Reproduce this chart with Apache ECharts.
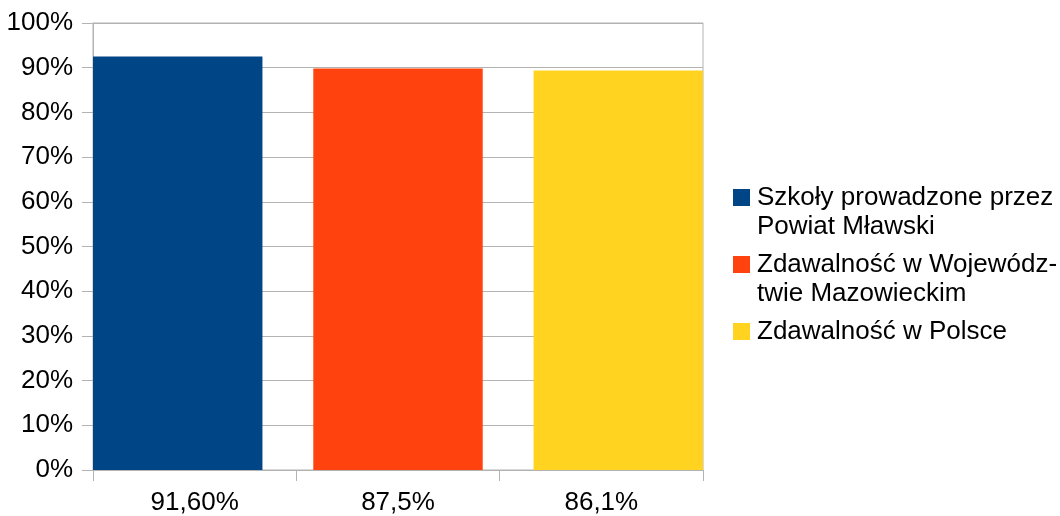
<!DOCTYPE html>
<html>
<head>
<meta charset="utf-8">
<script src="https://cdn.jsdelivr.net/npm/echarts@6/dist/echarts.min.js"></script>
<style>
html,body{margin:0;padding:0;background:#fff;}
#chart{width:1060px;height:516px;}
</style>
</head>
<body>
<div id="chart"></div>
<script>
var categories = ['91,60%', '87,5%', '86,1%'];
var seriesNames = ['Szkoły prowadzone przez Powiat Mławski', 'Zdawalność w Województwie Mazowieckim', 'Zdawalność w Polsce'];
var legendLabels = ['\nSzkoły prowadzone przez\nPowiat Mławski', '\nZdawalność w Wojewódz-\ntwie Mazowieckim', '\nZdawalność w Polsce\n'];
var powiatValues = [0.925, '-', '-'];
var mazowieckieValues = ['-', 0.898, '-'];
var polskaValues = ['-', '-', 0.894];
var colors = ['#004586', '#ff420e', '#ffd320'];

var FONT = '"Liberation Sans", Arial, sans-serif';
var chart = echarts.init(document.getElementById('chart'), null, {renderer: 'canvas'});
var seriesData = [powiatValues, mazowieckieValues, polskaValues];

var option = {
  animation: false,
  backgroundColor: '#ffffff',
  color: colors,
  grid: {
    left: 93, right: 357, top: 23, bottom: 44,
    show: true, borderColor: '#b3b3b3', borderWidth: 1
  },
  legend: {
    orient: 'vertical',
    left: 733,
    top: 154,
    padding: 0,
    itemGap: -20,
    itemWidth: 17,
    itemHeight: 17,
    icon: 'rect',
    textStyle: {fontFamily: FONT, fontSize: 26, color: '#000', lineHeight: 29, padding: [0, 0, 0, 2]},
    formatter: function (name) { return legendLabels[seriesNames.indexOf(name)]; },
    data: seriesNames
  },
  xAxis: {
    type: 'category',
    data: categories,
    boundaryGap: true,
    axisLine: {show: true, lineStyle: {color: '#b3b3b3'}},
    axisTick: {show: true, length: 11, lineStyle: {color: '#b3b3b3'}},
    axisLabel: {fontFamily: FONT, fontSize: 26, color: '#000', margin: 20},
    splitLine: {show: false}
  },
  yAxis: {
    type: 'value',
    min: 0, max: 1, interval: 0.1,
    axisLine: {show: true, lineStyle: {color: '#b3b3b3'}},
    axisTick: {show: true, length: 11, lineStyle: {color: '#b3b3b3'}},
    axisLabel: {
      fontFamily: FONT, fontSize: 26, color: '#000', margin: 20,
      formatter: function (v) { return Math.round(v * 100) + '%'; }
    },
    splitLine: {show: true, lineStyle: {color: '#b3b3b3'}}
  },
  series: seriesNames.map(function (n, i) {
    return {
      name: n,
      type: 'bar',
      data: seriesData[i],
      barGap: '-90%',
      barCategoryGap: '0%',
      itemStyle: {color: colors[i]}
    };
  })
};
chart.setOption(option);
</script>
</body>
</html>
